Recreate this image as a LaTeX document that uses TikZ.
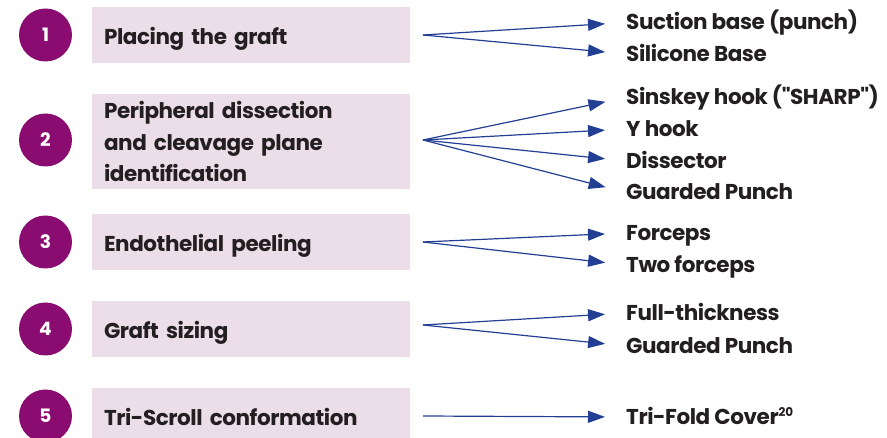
\documentclass[tikz,border=0pt]{standalone}
\usepackage{fontspec}
\setmainfont{Poppins}[LetterSpace=-2,Ligatures=TeXOff]
\usetikzlibrary{positioning}
\usetikzlibrary{arrows.meta}
\usetikzlibrary{calc}
\definecolor{stepcol}{HTML}{8A0C70}
\definecolor{boxcol}{HTML}{EBDEE8}
\definecolor{arrcol}{HTML}{233F94}
\definecolor{txtcol}{HTML}{231F20}

\begin{document}
\begin{tikzpicture}
  [x=1pt,y=-1pt,
  stepdot/.style={circle,fill=stepcol,text=white,inner sep=0pt,outer sep=0pt,minimum size=53pt,font=\fontsize{18.5}{20}\selectfont\bfseries},
  stepbox/.style={rectangle,fill=boxcol,text=txtcol,inner xsep=12pt,inner ysep=6pt,outer sep=0pt,text width=294pt,minimum height=56pt,align=left,font=\fontsize{21.5}{31.5}\selectfont\bfseries},
  oneline/.style={text height=20pt,text depth=0pt},
  tool/.style={anchor=west,inner sep=0pt,text=txtcol,text height=15pt,text depth=0pt,font=\fontsize{21.5}{26}\selectfont\bfseries},
  arr/.style={-{Triangle[length=17pt,width=12pt]},arrcol,line width=1.2pt,shorten >=21pt}]
  \useasboundingbox (0,0) rectangle (887,438);

  \node[stepdot] (c1) at (45.5,35) {1};
  \node[stepdot] (c2) at (45.5,140) {2};
  \node[stepdot] (c3) at (45.5,242) {3};
  \node[stepdot] (c4) at (45.5,329) {4};
  \node[stepdot] (c5) at (45.5,416) {5};

  \node[stepbox,oneline,right=20pt of c1] (b1) {Placing the graft};
  \node[stepbox,minimum height=95pt,right=20pt of c2,yshift=-1.5pt] (b2) {Peripheral dissection\\and cleavage plane\\identification};
  \node[stepbox,oneline,right=20pt of c3] (b3) {Endothelial peeling};
  \node[stepbox,oneline,right=20pt of c4] (b4) {Graft sizing};
  \node[stepbox,oneline,right=20pt of c5] (b5) {Tri-Scroll conformation};

  \coordinate (o1) at ($(b1.east)+(13,0)$);
  \coordinate (o2) at ($(b2.east)+(13,-1.5)$);
  \coordinate (o3) at ($(b3.east)+(13,0)$);
  \coordinate (o4) at ($(b4.east)+(13,-4)$);
  \coordinate (o5) at ($(b5.east)+(13,0)$);

  \node[tool] (t11) at (626,22.5) {Suction base (punch)};
  \node[tool] (t12) at (626,54) {Silicone Base};

  \node[tool] (t21) at (626,97.5) {Sinskey hook ("SHARP")};
  \node[tool] (t22) at (626,129) {Y hook};
  \node[tool] (t23) at (626,161) {Dissector};
  \node[tool] (t24) at (626,192.5) {Guarded Punch};

  \node[tool] (t31) at (626,233) {Forceps};
  \node[tool] (t32) at (626,265) {Two forceps};

  \node[tool] (t41) at (626,313) {Full-thickness};
  \node[tool] (t42) at (626,346) {Guarded Punch};

  \node[tool] (t51) at (626,417) {Tri-Fold Cover\textsuperscript{\fontsize{12}{12}\selectfont 20}};

  \draw [arr] (o1) -- (t11.west);
  \draw [arr] (o1) -- (t12.west);

  \draw [arr] (o2) -- (t21.west);
  \draw [arr] (o2) -- (t22.west);
  \draw [arr] (o2) -- (t23.west);
  \draw [arr] (o2) -- (t24.west);

  \draw [arr] (o3) -- (t31.west);
  \draw [arr] (o3) -- (t32.west);

  \draw [arr] (o4) -- (t41.west);
  \draw [arr] (o4) -- (t42.west);

  \draw [arr] (o5) -- (t51.west);

\end{tikzpicture}
\end{document}
